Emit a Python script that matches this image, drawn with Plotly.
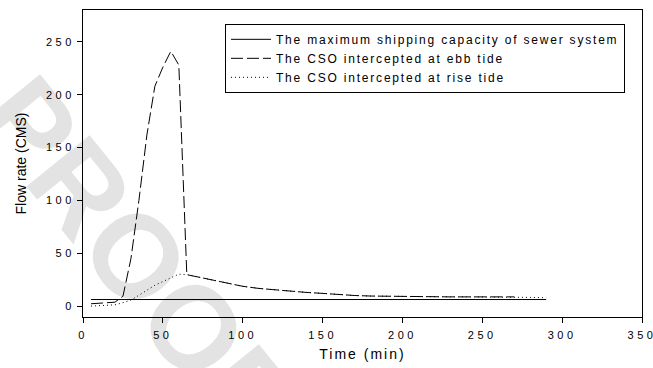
import plotly.graph_objects as go

# ---- data ----
time_cap = [5, 290]
flow_cap = [6.5, 6.5]

time_ebb = [5, 10, 15, 20, 25, 30, 35, 40, 45, 50, 55, 60, 65, 70, 75, 80, 90, 100,
            110, 120, 130, 140, 150, 160, 170, 180, 190, 200, 210, 220, 230, 240,
            250, 260, 270]
flow_ebb = [2.5, 2.8, 3.2, 4, 9.5, 45, 100, 162, 208, 226, 241, 228, 30, 28.5, 27,
            25.5, 22.5, 19, 17, 15.5, 14.2, 13.2, 12.3, 11, 10.3, 9.8, 9.5, 9.3, 9.2,
            9.1, 9, 9, 9, 9, 9]

time_rise = [5, 10, 15, 20, 25, 30, 35, 40, 45, 50, 55, 60, 65, 70, 75, 80, 90, 100,
             110, 120, 130, 140, 150, 160, 170, 180, 190, 200, 210, 220, 230, 240,
             250, 260, 270, 280, 290]
flow_rise = [0.3, 0.5, 0.8, 1.5, 3.5, 6, 10.5, 15.5, 20, 23.5, 27, 30.5, 30, 28.5, 27,
             25.5, 22.5, 19, 17, 15.5, 14.2, 13.2, 12.3, 11, 10.3, 9.8, 9.5, 9.3, 9.2,
             9.1, 9, 9, 9, 9, 9, 8.5, 8.2]

x_ticks = [0, 50, 100, 150, 200, 250, 300, 350]
x_tick_labels = ["0", "50", "100", "150", "200", "250", "300", "350"]
y_ticks = [0, 50, 100, 150, 200, 250]
y_tick_labels = ["0", "50", "100", "150", "200", "250"]

names = ["The maximum shipping capacity of sewer system",
         "The CSO intercepted at ebb tide",
         "The CSO intercepted at rise tide"]

FONT = "Arial, 'Liberation Sans', Helvetica, sans-serif"


def spaced(text, px):
    return '<span style="letter-spacing:%spx">%s</span>' % (px, text)


fig = go.Figure()
fig.add_trace(go.Scatter(x=time_cap, y=flow_cap, mode="lines", name=spaced(names[0], 1.8),
                         line=dict(color="black", width=1)))
fig.add_trace(go.Scatter(x=time_ebb, y=flow_ebb, mode="lines", name=spaced(names[1], 1.8),
                         line=dict(color="black", width=1, dash="12px,4px")))
fig.add_trace(go.Scatter(x=time_rise, y=flow_rise, mode="lines", name=spaced(names[2], 1.8),
                         line=dict(color="black", width=1, dash="1px,3px")))

# watermark behind the data
fig.add_shape(type="rect", xref="paper", yref="paper",
              x0=0.06, x1=0.16, y0=0.17, y1=0.27,
              line=dict(width=0), fillcolor="rgba(0,0,0,0)", layer="below",
              label=dict(text="PROOF", textangle=51, textposition="middle center",
                         font=dict(size=118, color="#e3e3e3", family=FONT, weight="bold")))

fig.update_layout(
    template="none",
    width=653, height=368,
    margin=dict(l=83, r=11, t=10, b=51, autoexpand=False),
    paper_bgcolor="white", plot_bgcolor="rgba(0,0,0,0)",
    font=dict(family=FONT, color="black"),
    showlegend=True,
    legend=dict(x=0.254, y=0.955, xanchor="left", yanchor="top",
                bordercolor="black", borderwidth=1, bgcolor="white",
                font=dict(size=12, family=FONT, color="black"),
                itemwidth=40, tracegroupgap=0),
)
fig.update_xaxes(range=[0, 350], tickvals=x_ticks, automargin=False,
                 ticktext=[spaced(t, 3.5) for t in x_tick_labels],
                 ticks="outside", ticklen=5, tickwidth=1, ticklabelstandoff=3,
                 ticklabeloverflow="allow",
                 tickcolor="black", showline=True, linecolor="black", linewidth=1,
                 mirror=True, showgrid=False, zeroline=False,
                 tickfont=dict(size=11, family=FONT, color="black"),
                 title=dict(text=spaced("Time (min)", 2), font=dict(size=14, family=FONT),
                            standoff=8))
fig.update_yaxes(range=[-10, 280], tickvals=y_ticks, automargin=False,
                 ticktext=[spaced(t, 3.5) for t in y_tick_labels],
                 ticks="outside", ticklen=5, tickwidth=1, ticklabeloverflow="allow",
                 tickcolor="black", showline=True, linecolor="black", linewidth=1,
                 mirror=True, showgrid=False, zeroline=False,
                 tickfont=dict(size=11, family=FONT, color="black"),
                 title=dict(text="Flow rate (CMS)", font=dict(size=14, family=FONT),
                            standoff=16))

fig.write_html("out.html")
